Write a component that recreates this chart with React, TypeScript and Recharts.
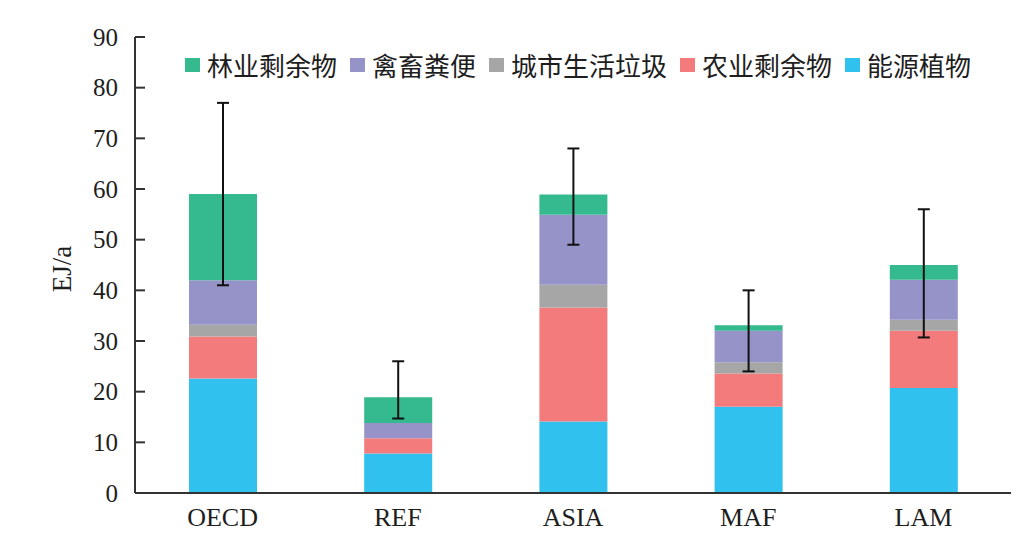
import React from "react";
import {
  BarChart,
  Bar,
  XAxis,
  YAxis,
  Legend,
  ErrorBar,
} from "recharts";

const categories = ["OECD", "REF", "ASIA", "MAF", "LAM"];

// stacked from bottom to top
const energyCrops = [22.6, 7.8, 14.1, 17.0, 20.7]; // 能源植物
const agriResidue = [8.3, 3.0, 22.5, 6.6, 11.3]; // 农业剩余物
const municipalWaste = [2.3, 0, 4.5, 2.2, 2.2]; // 城市生活垃圾
const manure = [8.8, 3.0, 13.8, 6.2, 7.9]; // 禽畜粪便
const forestResidue = [17.0, 5.1, 4.0, 1.1, 2.9]; // 林业剩余物

// range of estimates (low / high)
const rangeLow = [41, 14.7, 49, 24, 30.7];
const rangeHigh = [77, 26, 68, 40, 56];

const yTicks = [0, 10, 20, 30, 40, 50, 60, 70, 80, 90];

const SERIES = [
  { key: "energy", name: "能源植物", color: "#30c1ee" },
  { key: "agri", name: "农业剩余物", color: "#f37b7b" },
  { key: "msw", name: "城市生活垃圾", color: "#a6a6a6" },
  { key: "manure", name: "禽畜粪便", color: "#9693c8" },
  { key: "forest", name: "林业剩余物", color: "#34ba8e" },
];

const data = categories.map((name, i) => {
  const total =
    energyCrops[i] + agriResidue[i] + municipalWaste[i] + manure[i] + forestResidue[i];
  return {
    name,
    energy: energyCrops[i],
    agri: agriResidue[i],
    msw: municipalWaste[i],
    manure: manure[i],
    forest: forestResidue[i],
    err: [total - rangeLow[i], rangeHigh[i] - total],
  };
});

const AXIS = "#333333";
const TEXT = "#1e1e1e";
const SERIF = '"Liberation Serif", "Times New Roman", serif';
const CJK = '"Noto Sans CJK SC", sans-serif';

const YTick = ({ x, y, payload }: any) => (
  <g>
    <line x1={x} x2={x + 10} y1={y} y2={y} stroke={AXIS} strokeWidth={2} />
    <text
      x={x - 17}
      y={y}
      textAnchor="end"
      dominantBaseline="central"
      fontFamily={SERIF}
      fontSize={25}
      fill={TEXT}
    >
      {payload.value}
    </text>
  </g>
);

const LegendContent = () => (
  <div style={{ display: "flex", alignItems: "center", fontFamily: CJK, fontSize: 26, color: TEXT, whiteSpace: "nowrap" }}>
    {[...SERIES].reverse().map((s, i) => (
      <div key={s.key} style={{ display: "flex", alignItems: "center", marginLeft: i === 0 ? 0 : 13 }}>
        <span style={{ display: "inline-block", width: 15, height: 14, background: s.color, marginRight: 7 }} />
        <span style={{ lineHeight: "30px" }}>{s.name}</span>
      </div>
    ))}
  </div>
);

export default function App() {
  return (
    <div style={{ position: "absolute", left: 0, top: 0, background: "#fff" }}>
      <BarChart
        width={1026}
        height={554}
        data={data}
        margin={{ top: 37, right: 15, left: 0, bottom: 0 }}
      >
        <XAxis
          dataKey="name"
          axisLine={{ stroke: AXIS, strokeWidth: 2 }}
          tickLine={false}
          tickSize={0}
          tickMargin={15}
          height={61}
          tick={{ fontFamily: SERIF, fontSize: 26, fill: TEXT }}
        />
        <XAxis
          xAxisId="top"
          orientation="top"
          dataKey="name"
          height={0}
          tick={false}
          tickLine={false}
          axisLine={{ stroke: AXIS, strokeWidth: 2 }}
        />
        <YAxis
          domain={[0, 90]}
          ticks={yTicks}
          width={135}
          tickSize={0}
          tickMargin={0}
          tickLine={false}
          axisLine={{ stroke: AXIS, strokeWidth: 2 }}
          tick={<YTick />}
          label={{
            content: () => (
              <text
                x={62}
                y={269}
                transform="rotate(-90 62 269)"
                textAnchor="middle"
                dominantBaseline="central"
                fontFamily={SERIF}
                fontSize={27}
                fill={TEXT}
              >
                EJ/a
              </text>
            ),
          }}
        />
        <YAxis
          yAxisId="right"
          orientation="right"
          domain={[0, 90]}
          width={0}
          tick={false}
          tickLine={false}
          axisLine={{ stroke: AXIS, strokeWidth: 2 }}
        />
        <Legend
          layout="horizontal"
          verticalAlign="middle"
          align="center"
          content={<LegendContent />}
          wrapperStyle={{ top: 50, left: 185, width: "auto" }}
        />
        {SERIES.map((s, i) => (
          <Bar
            key={s.key}
            dataKey={s.key}
            name={s.name}
            stackId="a"
            fill={s.color}
            barSize={68}
            isAnimationActive={false}
          >
            {i === SERIES.length - 1 && (
              <ErrorBar dataKey="err" direction="y" width={6} stroke="#111" strokeWidth={2} />
            )}
          </Bar>
        ))}
      </BarChart>
    </div>
  );
}
